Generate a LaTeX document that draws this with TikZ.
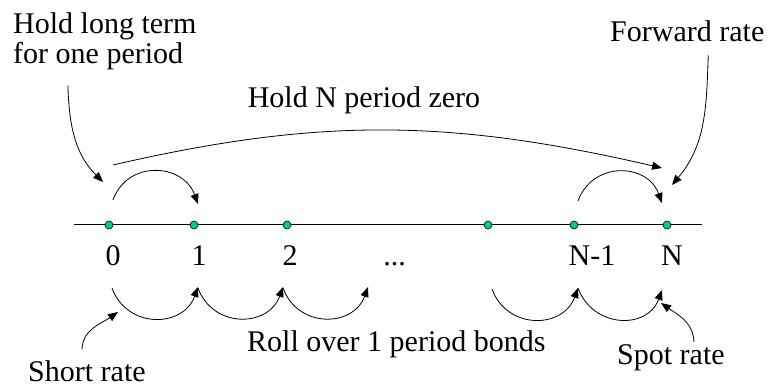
\documentclass[tikz,border=0pt]{standalone}
\usepackage{fontspec}
\setmainfont{Liberation Serif}
\usepackage{tikz}
\usetikzlibrary{positioning,arrows.meta,calc}
\definecolor{dotgreen}{RGB}{0,204,153}

\begin{document}
\begin{tikzpicture}[
  x=1pt, y=1pt,
  font=\fontsize{30}{30}\selectfont,
  >={Triangle[length=10pt,width=8pt]},
  tpoint/.style={circle, draw, fill=dotgreen, line width=0.6pt, minimum size=8pt, inner sep=0pt},
  ticklab/.style={inner sep=0pt, text height=20.5pt, text depth=0pt},
  lbl/.style={inner sep=0pt},
  hop/.style={->, line width=0.8pt, looseness=1.3},
  note/.style={->, line width=0.8pt},
]
\useasboundingbox (0,0) rectangle (770,387);

% Time axis
\coordinate (axisL) at (74,162);
\coordinate (axisR) at (702,162);
\draw[line width=1pt] (axisL) -- (axisR);

\node[tpoint] (d0) at (109,162) {};
\node[tpoint] (d1) at (194,162) {};
\node[tpoint] (d2) at (287,162) {};
\node[tpoint] (d3) at (488,162) {};
\node[tpoint] (d4) at (574,162) {};
\node[tpoint] (d5) at (667,162) {};

% Period labels
\node[ticklab, below=15.5pt of d0, xshift=4pt] (l0) {0};
\node[ticklab, below=15.5pt of d1, xshift=5pt] (l1) {1};
\node[ticklab, below=15.5pt of d2, xshift=3pt] (l2) {2};
\node[ticklab, right=85.5pt of l2] (ldots) {...};
\node[ticklab, below=15.5pt of d4, xshift=18pt] (l4) {N-1};
\node[ticklab, below=15.5pt of d5, xshift=5pt] (l5) {N};

% Text labels
\node[lbl, align=left, anchor=north west] (holdlong) at (13,374.5) {Hold long term\\for one period};
\node[lbl, anchor=base] (holdN) at (364,279) {Hold N period zero};
\node[lbl, anchor=base west] (fwd) at (610,345) {Forward rate};
\node[lbl, anchor=base west] (roll) at (247,35) {Roll over 1 period bonds};
\node[lbl, anchor=base west] (short) at (28,5) {Short rate};
\node[lbl, anchor=base west] (spot) at (617,22) {Spot rate};

% Holding arcs above the axis
\draw[hop] ($(d0)+(4,25)$) to[out=70,in=110] ($(d1)+(4,21)$);
\draw[hop] ($(d4)+(4,24)$) to[out=70,in=110] ($(d5)+(-5,22)$);
\draw[note] ($(d0)+(4,60)$) to[out=13,in=167] ($(d5)+(-5,57)$);

% Roll over arcs below the axis
\draw[hop] ($(d0)+(3,-63)$) to[out=-70,in=-110] ($(d1)+(4,-62)$);
\draw[hop] ($(d1)+(4,-63)$) to[out=-70,in=-110] ($(d2)+(-4,-62)$);
\draw[hop] ($(d2)+(-4,-63)$) to[out=-70,in=-110] ($(d2)+(81,-62)$);
\draw[hop] ($(d3)+(4,-64)$) to[out=-70,in=-110] ($(d4)+(4,-63)$);
\draw[hop] ($(d4)+(4,-63)$) to[out=-70,in=-110] ($(d5)+(-5,-65)$);

% Pointers from the texts
\draw[note] ([xshift=-37pt,yshift=-15.5pt]holdlong.south) to[out=-88,in=135] ($(d0)+(-6,43)$);
\draw[note] ([xshift=21pt,yshift=-13pt]fwd.south) to[out=-92,in=50] ($(d5)+(5,40)$);
\draw[note] ([xshift=-5pt,yshift=11.5pt]short.north) to[out=88,in=-145] ($(d0)+(9,-87)$);
\draw[note] ([xshift=23pt,yshift=3pt]spot.north) to[out=92,in=-35] ($(d5)+(-6,-78)$);

\end{tikzpicture}
\end{document}
